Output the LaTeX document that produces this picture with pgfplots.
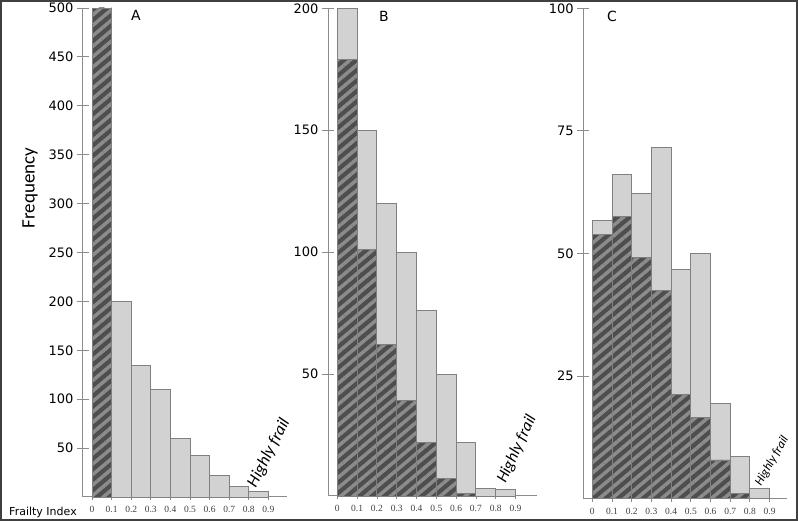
\documentclass[border=0pt]{standalone}
\usepackage{pgfplots}
\pgfplotsset{compat=1.18}
\usepackage{fontspec}
\setmainfont{DejaVu Sans}
\newfontfamily\calfont{Carlito}
\newfontfamily\numfont{Liberation Serif}
\usetikzlibrary{patterns.meta}

\definecolor{barfill}{RGB}{210,210,210}
\definecolor{baredge}{RGB}{128,128,128}
\definecolor{hatchdark}{RGB}{78,78,78}
\definecolor{hatchlight}{RGB}{140,140,140}
\definecolor{axisgray}{RGB}{140,140,140}

\pgfplotsset{
  panel/.style={
    scale only axis, anchor=south west, clip=false,
    axis x line=bottom, axis y line=left,
    axis line style={-, axisgray, line width=1pt},
    ymin=0,
    xtick={0,0.1,0.2,0.3,0.4,0.5,0.6,0.7,0.8,0.9},
    xticklabels={0,0.1,0.2,0.3,0.4,0.5,0.6,0.7,0.8,0.9},
    major tick length=12pt,
    ytick align=center, xtick align=outside,
    x tick style={/pgfplots/major tick length=3pt},
    tick style={axisgray, line width=0.8pt},
    yticklabel style={font=\fontsize{13}{13}\selectfont},
    xticklabel style={font=\numfont\fontsize{9.5}{9.5}\selectfont, text=black!75, yshift=6pt},
    /pgf/number format/assume math mode=true,
  },
  light/.style={ybar interval, fill=barfill, draw=baredge, line width=0.9pt},
  hatch/.style={ybar interval, fill=hatchdark, draw=baredge, line width=0.9pt,
    postaction={pattern={Lines[angle=40,distance=8pt,line width=3.5pt]}, pattern color=hatchlight}},
}

\begin{document}
\begin{tikzpicture}
\useasboundingbox (0,0) rectangle (798pt,521pt);

% panel A
\begin{axis}[panel, at={(83pt,24pt)}, width=204pt, height=489pt,
  xmin=-0.046, xmax=0.995, ymax=500,
  ytick={50,100,150,200,250,300,350,400,450,500}]
\addplot[light] coordinates {(0.1,200) (0.2,134) (0.3,110) (0.4,60) (0.5,42) (0.6,22) (0.7,11) (0.8,6) (0.9,0)};
\addplot[hatch] coordinates {(0,500) (0.1,0)};
\end{axis}

% panel B
\begin{axis}[panel, at={(328pt,25pt)}, width=208.7pt, height=487.7pt,
  xmin=-0.047, xmax=1.007, ymax=200,
  ytick={50,100,150,200}]
\addplot[light] coordinates {(0,200) (0.1,150) (0.2,120) (0.3,100) (0.4,76) (0.5,50) (0.6,22) (0.7,3) (0.8,2.5) (0.9,0)};
\addplot[hatch] coordinates {(0,179) (0.1,101) (0.2,62) (0.3,39) (0.4,22) (0.5,7) (0.6,1) (0.7,0)};
\end{axis}

% panel C
\begin{axis}[panel, at={(583.3pt,22.3pt)}, width=203.4pt, height=490.4pt,
  xmin=-0.046, xmax=0.987, ymax=100,
  ytick={25,50,75,100}]
\addplot[light] coordinates {(0,56.7) (0.1,66.1) (0.2,62.3) (0.3,71.7) (0.4,46.7) (0.5,50) (0.6,19.4) (0.7,8.7) (0.8,2) (0.9,0)};
\addplot[hatch] coordinates {(0,53.8) (0.1,57.6) (0.2,49.2) (0.3,42.4) (0.4,21.3) (0.5,16.5) (0.6,7.9) (0.7,1) (0.8,0)};
\end{axis}

% labels
\node[rotate=90, font=\calfont\fontsize{19}{19}\selectfont] at (30pt,333pt) {Frequency};
\node[font=\fontsize{11}{11}\selectfont] at (43pt,9pt) {Frailty Index};
\node[font=\fontsize{14}{14}\selectfont] at (136pt,506pt) {A};
\node[font=\fontsize{14}{14}\selectfont] at (384pt,505pt) {B};
\node[font=\fontsize{14}{14}\selectfont] at (612pt,505pt) {C};
\node[rotate=63, inner sep=0pt, font=\calfont\itshape\fontsize{17}{17}\selectfont] at (269pt,68pt) {Highly frail};
\node[rotate=65, inner sep=0pt, font=\calfont\itshape\fontsize{16.5}{16.5}\selectfont] at (517pt,72pt) {Highly frail};
\node[rotate=60, inner sep=0pt, font=\calfont\itshape\fontsize{12.5}{12.5}\selectfont] at (772pt,60pt) {Highly frail};

% outer frame
\draw[black!75, line width=2pt] (1pt,1pt) rectangle (797pt,520pt);
\end{tikzpicture}
\end{document}
